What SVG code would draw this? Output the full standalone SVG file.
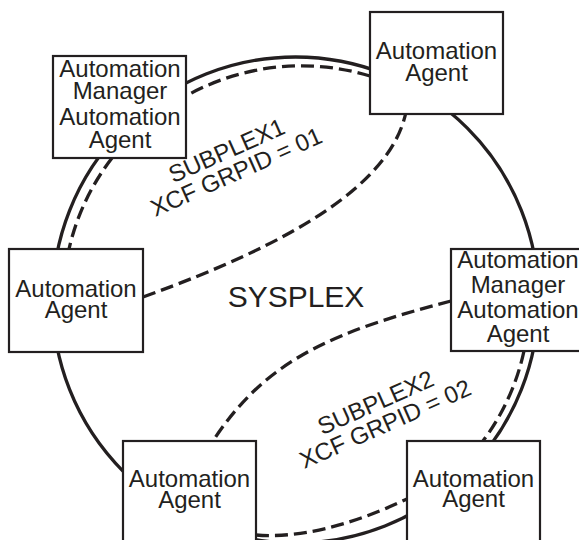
<svg xmlns="http://www.w3.org/2000/svg" width="579" height="540" viewBox="0 0 579 540">
<style>
.box{fill:#fff;stroke:#231f20;stroke-width:2.2}
.t{font-family:"Liberation Sans",Arial,sans-serif;font-size:24px;fill:#231f20;text-anchor:middle}
.solid{fill:none;stroke:#231f20;stroke-width:3.3}
.dash{fill:none;stroke:#231f20;stroke-width:3.3;stroke-dasharray:13 6}
</style>
<rect width="579" height="540" fill="#fff"/>
<g id="connectors">
<circle class="solid" cx="295.5" cy="300" r="243"/>
<path class="dash" d="M370,76 A236,236 0 0 0 186,96"/>
<path class="dash" d="M112,158 A234,234 0 0 0 69,249"/>
<path class="dash" d="M143,297 C293,243 391,184 406,112"/>
<path class="dash" d="M524,351 A234,234 0 0 1 483,441"/>
<path class="dash" d="M451,301 C341,330 268,356 213,441"/>
<path class="dash" d="M256,535 Q320,540 407,499"/>
</g>
<g id="node-manager1">
<rect class="box" x="53" y="56" width="133" height="102"/>
<text class="t" x="120" y="77">Automation</text>
<text class="t" x="120" y="99">Manager</text>
<text class="t" x="120" y="125">Automation</text>
<text class="t" x="120" y="148">Agent</text>
</g>
<g id="node-agent-top">
<rect class="box" x="370" y="12" width="133" height="102"/>
<text class="t" x="436.5" y="59">Automation</text>
<text class="t" x="436.5" y="81">Agent</text>
</g>
<g id="node-agent-left">
<rect class="box" x="9" y="249" width="134" height="103"/>
<text class="t" x="76" y="297">Automation</text>
<text class="t" x="76" y="318">Agent</text>
</g>
<g id="node-manager2">
<rect class="box" x="451" y="249" width="134" height="102"/>
<text class="t" x="518" y="268">Automation</text>
<text class="t" x="518" y="293">Manager</text>
<text class="t" x="518" y="318">Automation</text>
<text class="t" x="518" y="342">Agent</text>
</g>
<g id="node-agent-bl">
<rect class="box" x="123" y="441" width="133" height="110"/>
<text class="t" x="189.5" y="487">Automation</text>
<text class="t" x="189.5" y="508">Agent</text>
</g>
<g id="node-agent-br">
<rect class="box" x="407" y="441" width="133" height="110"/>
<text class="t" x="473.5" y="487">Automation</text>
<text class="t" x="473.5" y="507">Agent</text>
</g>
<g id="labels">
<text class="t" x="296" y="307" style="font-size:30px">SYSPLEX</text>
<g transform="translate(230,158) rotate(-24)">
<text class="t" x="0" y="0">SUBPLEX1</text>
<text class="t" x="0" y="23.5">XCF GRPID = 01</text>
</g>
<g transform="translate(379,410) rotate(-24)">
<text class="t" x="0" y="0">SUBPLEX2</text>
<text class="t" x="0" y="23.5">XCF GRPID = 02</text>
</g>
</g>
</svg>
